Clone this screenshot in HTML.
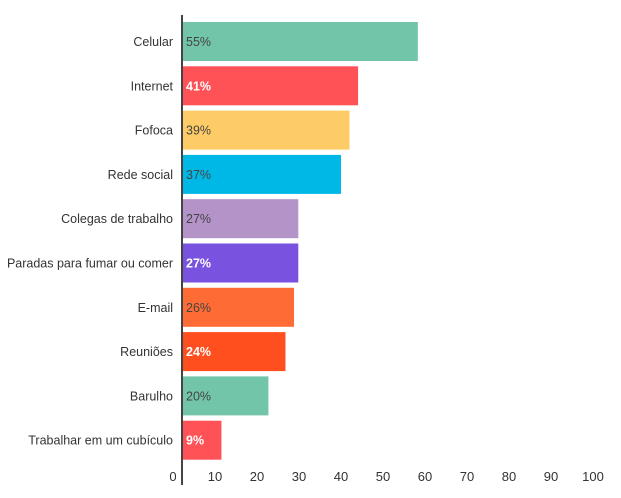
<!DOCTYPE html>
<html><head><meta charset="utf-8"><style>
body{margin:0;background:#fff;width:621px;height:498px;overflow:hidden}
svg{display:block;font-family:"Liberation Sans",sans-serif}
</style></head><body>
<svg id="chart" width="621" height="498"></svg>
<script>
const categories=["Celular","Internet","Fofoca","Rede social","Colegas de trabalho","Paradas para fumar ou comer","E-mail","Reuniões","Barulho","Trabalhar em um cubículo"];
const values=[55,41,39,37,27,27,26,24,20,9];
const valueLabels=["55%","41%","39%","37%","27%","27%","26%","24%","20%","9%"];
const tickValues=[0,10,20,30,40,50,60,70,80,90,100];
const colors=["#72c5a8","#ff5257","#fecc66","#00b8e6","#b393c8","#7a52e0","#ff6b35","#ff4f1f","#72c5a8","#ff5257"];
const lightText=[true,false,true,true,true,false,true,false,true,false];
const NS="http://www.w3.org/2000/svg";
const svg=document.getElementById('chart');
const x0=183, pxPer=4.27;
function xScale(v){return x0+v*pxPer;}
function tickX(v){return 173+v*4.2;}
function yBand(i){return 22+i*44.3;}
const bandH=39;
function mk(tag,attrs){const e=document.createElementNS(NS,tag);for(const k in attrs)e.setAttribute(k,attrs[k]);svg.appendChild(e);return e;}
categories.forEach((c,i)=>{
  const y=yBand(i);
  const r=mk('rect',{x:x0,y:y,width:xScale(values[i])-x0,height:bandH,fill:colors[i]});
  
  
  const l=mk('text',{x:173,y:y+bandH/2+4.5,'text-anchor':'end','font-size':'12.5',fill:'#333'});
  l.textContent=c;
  
  
  const v=mk('text',{x:186,y:y+bandH/2+4.5,'font-size':'12.5',fill:lightText[i]?'#444':'#fff','font-weight':lightText[i]?'normal':'bold'});
  v.textContent=valueLabels[i];
  
  
});
const ax=mk('line',{x1:182,y1:15,x2:182,y2:485,stroke:'#444','stroke-width':2});


tickValues.forEach(t=>{
  const tx=mk('text',{x:tickX(t),y:481,'text-anchor':'middle','font-size':'13',fill:'#333'});
  tx.textContent=String(t);
  
  
});
</script>
</body></html>
